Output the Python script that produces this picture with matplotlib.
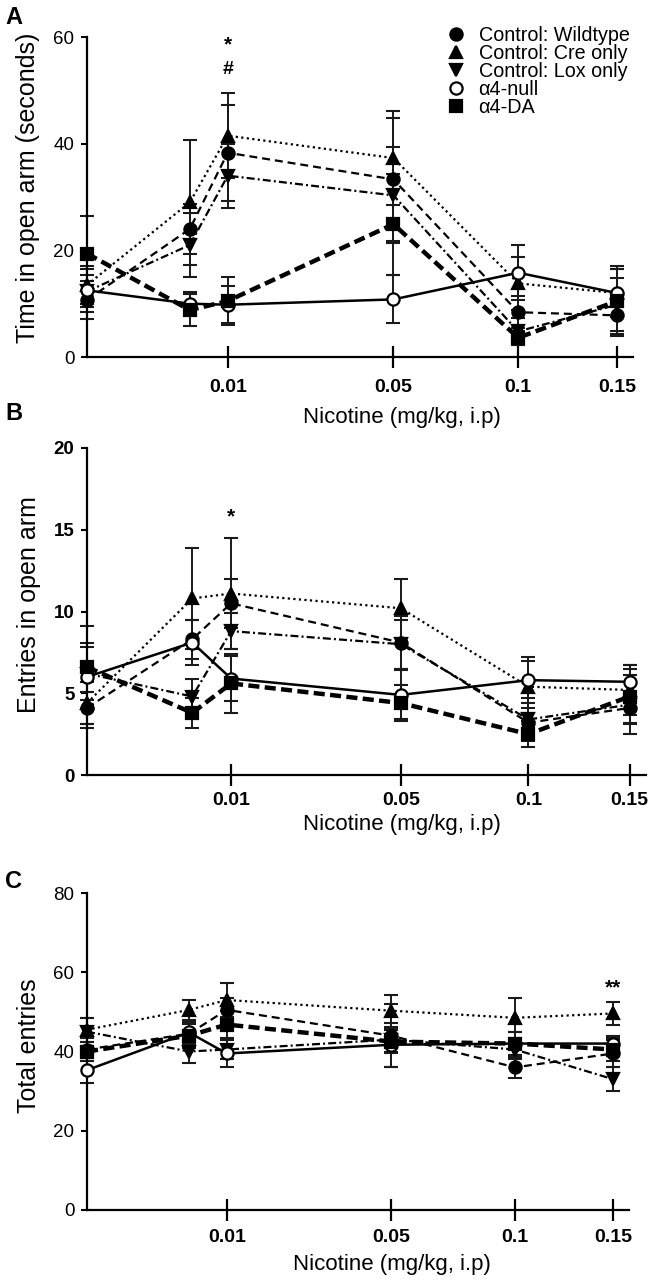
import matplotlib
matplotlib.use("Agg")
import matplotlib.pyplot as plt
from matplotlib.lines import Line2D

plt.rcParams['font.family'] = ['Liberation Sans', 'DejaVu Sans']

# dose categories, placed along the axis as in the original figure
doses = ['0', '0.005', '0.01', '0.05', '0.1', '0.15']
dose_pos = [0, 103, 141, 307, 432, 531]
tick_labels = ['0.01', '0.05', '0.1', '0.15']

groups = ['Control: Wildtype', 'Control: Cre only', 'Control: Lox only', 'α4-null', 'α4-DA']

# A - time in open arm (s)
time_wt = [10.7, 24.0, 38.3, 33.3, 8.4, 7.8]
time_wt_err = [3.5, 4.6, 9.0, 11.5, 3.0, 3.5]
time_cre = [13.5, 29.0, 41.5, 37.3, 13.8, 12.0]
time_cre_err = [3.5, 11.7, 8.0, 8.8, 5.0, 4.5]
time_lox = [12.3, 21.0, 34.0, 30.3, 4.8, 9.8]
time_lox_err = [3.0, 6.0, 6.0, 9.0, 2.5, 5.0]
time_null = [12.5, 10.0, 9.8, 10.8, 15.8, 12.0]
time_null_err = [4.0, 2.2, 3.5, 4.5, 5.2, 4.5]
time_da = [19.4, 8.8, 10.5, 24.9, 3.6, 10.5]
time_da_err = [7.0, 3.0, 4.5, 9.5, 1.3, 6.5]

# B - entries in open arm
ent_wt = [4.1, 8.3, 10.5, 8.1, 3.2, 4.1]
ent_wt_err = [1.0, 1.2, 1.5, 1.6, 0.9, 0.9]
ent_cre = [4.4, 10.8, 11.1, 10.2, 5.4, 5.2]
ent_cre_err = [1.3, 3.1, 3.4, 1.8, 1.6, 1.5]
ent_lox = [6.2, 4.8, 8.8, 8.0, 3.4, 4.3]
ent_lox_err = [1.6, 1.1, 1.1, 1.5, 1.3, 1.8]
ent_null = [6.0, 8.1, 5.9, 4.9, 5.8, 5.7]
ent_null_err = [3.1, 1.4, 1.4, 1.5, 1.4, 1.0]
ent_da = [6.6, 3.8, 5.6, 4.4, 2.5, 4.8]
ent_da_err = [1.5, 0.9, 1.8, 1.1, 0.8, 1.7]

# C - total entries
tot_wt = [40.5, 44.5, 50.5, 44.0, 36.0, 39.5]
tot_wt_err = [3.0, 3.0, 3.0, 8.0, 2.6, 3.5]
tot_cre = [45.5, 50.5, 53.0, 50.3, 48.5, 49.6]
tot_cre_err = [3.0, 2.5, 4.4, 4.0, 5.0, 3.0]
tot_lox = [45.0, 40.0, 40.5, 43.0, 40.5, 33.0]
tot_lox_err = [3.5, 2.8, 2.5, 3.0, 2.5, 3.0]
tot_null = [35.3, 44.8, 39.5, 41.7, 42.0, 42.0]
tot_null_err = [3.3, 3.0, 3.5, 5.5, 3.0, 2.0]
tot_da = [40.0, 44.0, 46.8, 42.5, 42.0, 40.5]
tot_da_err = [2.5, 3.0, 3.5, 3.0, 3.0, 3.0]

styles = [
    dict(marker='o', mfc='black', lw=1.6, dashes=(3.6, 2.2)),
    dict(marker='^', mfc='black', lw=1.6, dashes=(1.0, 1.5)),
    dict(marker='v', mfc='black', lw=1.6, dashes=(3.6, 1.4, 0.9, 1.4)),
    dict(marker='o', mfc='white', lw=1.8, dashes=None),
    dict(marker='s', mfc='black', lw=3.2, dashes=(2.5, 1.2)),
]

W, H = 652, 1280
fig = plt.figure(figsize=(W / 100, H / 100), dpi=100)


def add_panel(left, right, top, bottom):
    return fig.add_axes([left / W, 1 - bottom / H, (right - left) / W, (bottom - top) / H])


def draw(ax, series, errs, ymax, ystep, ylabel, bold_y, xpad, xlab_xy, ylab_xy):
    for y, e, st in zip(series, errs, styles):
        ax.errorbar(dose_pos, y, yerr=e, fmt='none', ecolor='#1a1a1a',
                    elinewidth=1.4, capsize=5, capthick=1.5, clip_on=False, zorder=2)
        line, = ax.plot(dose_pos, y, color='black', lw=st['lw'], marker=st['marker'],
                        ms=8.8, mfc=st['mfc'], mec='black', mew=1.6, clip_on=False, zorder=3)
        if st['dashes']:
            line.set_dashes(st['dashes'])
    ax.set_xlim(0, 547)
    ax.set_ylim(0, ymax)
    ax.spines['top'].set_visible(False)
    ax.spines['right'].set_visible(False)
    for s in ['left', 'bottom']:
        ax.spines[s].set_linewidth(1.6)
    ax.set_xticks(dose_pos[2:])
    ax.set_xticklabels(tick_labels, fontsize=14, fontweight='bold')
    ax.tick_params(axis='x', direction='inout', length=16, width=1.6, pad=xpad)
    ax.set_yticks(range(0, ymax + 1, ystep))
    ax.set_yticklabels([str(v) for v in range(0, ymax + 1, ystep)], fontsize=13.5,
                       fontweight='bold' if bold_y else 'normal')
    ax.tick_params(axis='y', direction='out', length=4, width=1.5, pad=5)
    ax.set_ylabel(ylabel, fontsize=18)
    ax.set_xlabel('Nicotine (mg/kg, i.p)', fontsize=16)
    ax.xaxis.set_label_coords(*xlab_xy)
    ax.yaxis.set_label_coords(*ylab_xy)


axA = add_panel(87, 633, 37, 357)
draw(axA, [time_wt, time_cre, time_lox, time_null, time_da],
     [time_wt_err, time_cre_err, time_lox_err, time_null_err, time_da_err],
     60, 20, 'Time in open arm (seconds)', False, 7.5,
     (0.576, -0.157), (-47 / 546, 0.53))
axA.text(dose_pos[2], 58.5, '*', ha='center', va='center', fontsize=15, fontweight='bold')
axA.text(dose_pos[2], 54.0, '#', ha='center', va='center', fontsize=14, fontweight='bold')

handles = [Line2D([], [], ls='none', marker=st['marker'], ms=8.8, mfc=st['mfc'],
                  mec='black', mew=1.6, color='black') for st in styles]
fig.legend(handles, groups, loc='upper left', bbox_to_anchor=(448 / W, 1 - 26 / H),
           frameon=False, fontsize=14.2, handlelength=0.8, handletextpad=0.75,
           labelspacing=-0.05, borderpad=0, borderaxespad=0)

axB = add_panel(87, 646, 448, 775)
draw(axB, [ent_wt, ent_cre, ent_lox, ent_null, ent_da],
     [ent_wt_err, ent_cre_err, ent_lox_err, ent_null_err, ent_da_err],
     20, 5, 'Entries in open arm', True, 4.5,
     (0.563, -0.12), (-46 / 559, 0.52))
axB.text(dose_pos[2], 15.8, '*', ha='center', va='center', fontsize=15, fontweight='bold')

axC = add_panel(87, 629, 893, 1210)
draw(axC, [tot_wt, tot_cre, tot_lox, tot_null, tot_da],
     [tot_wt_err, tot_cre_err, tot_lox_err, tot_null_err, tot_da_err],
     80, 20, 'Total entries', False, 6,
     (0.562, -0.14), (-46 / 542, 0.517))
axC.text(dose_pos[5], 56.0, '**', ha='center', va='center', fontsize=15, fontweight='bold')

fig.text(5 / W, 1 - 17 / H, 'A', fontsize=17, fontweight='bold', va='center', ha='left')
fig.text(5 / W, 1 - 414 / H, 'B', fontsize=17, fontweight='bold', va='center', ha='left')
fig.text(5 / W, 1 - 882 / H, 'C', fontsize=17, fontweight='bold', va='center', ha='left')

fig.savefig('out.png', dpi=100)
